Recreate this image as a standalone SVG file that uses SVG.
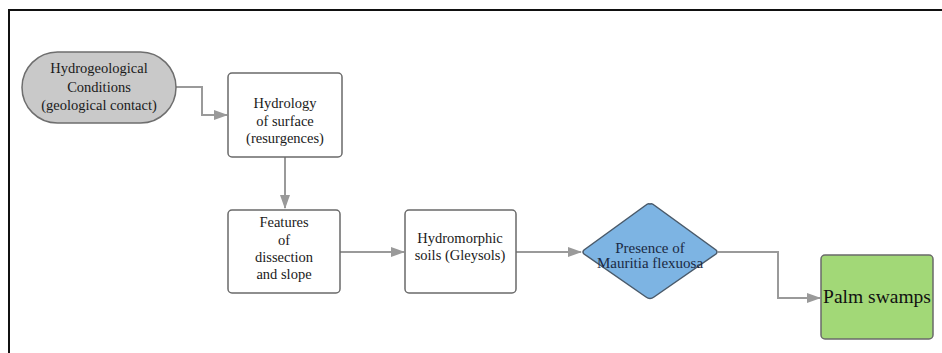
<svg xmlns="http://www.w3.org/2000/svg" width="942" height="353" viewBox="0 0 942 353">
<style>
.t{font-family:'Liberation Serif','Times New Roman','DejaVu Serif',serif;font-size:14.5px;fill:#1a1a1a;text-anchor:middle}
.box{fill:#fff;stroke:#6a6a6a;stroke-width:1.5}
.c{fill:none;stroke:#9a9a9a;stroke-width:2}
</style>
<defs>
<marker id="ah" markerWidth="14" markerHeight="10" refX="13" refY="5" orient="auto" markerUnits="userSpaceOnUse">
<path d="M0,0 L14,5 L0,10 Z" fill="#9a9a9a"/>
</marker>
</defs>
<rect width="942" height="353" fill="#fff"/>
<path d="M9,355 V10 H944" fill="none" stroke="#111" stroke-width="2"/>
<g id="connectors">
<path class="c" d="M176,87 H202 V115 H227" marker-end="url(#ah)"/>
<path class="c" d="M285,157 V208" marker-end="url(#ah)"/>
<path class="c" d="M340,252 H404" marker-end="url(#ah)"/>
<path class="c" d="M516,252 H581" marker-end="url(#ah)"/>
<path class="c" d="M718,252 H778 V298 H820" marker-end="url(#ah)"/>
</g>
<g id="n1">
<rect x="22" y="52" width="154" height="71" rx="35.5" fill="#c9c9c9" stroke="#6e6e6e" stroke-width="1.5"/>
<text class="t" x="99" y="73">Hydrogeological</text>
<text class="t" x="99" y="92">Conditions</text>
<text class="t" x="99" y="110">(geological contact)</text>
</g>
<g id="n2">
<rect class="box" x="228" y="73" width="114" height="84" rx="4"/>
<text class="t" x="285" y="108">Hydrology</text>
<text class="t" x="285" y="126">of surface</text>
<text class="t" x="285" y="143">(resurgences)</text>
</g>
<g id="n3">
<rect class="box" x="228" y="210" width="112" height="83" rx="4"/>
<text class="t" x="284" y="227">Features</text>
<text class="t" x="284" y="245">of</text>
<text class="t" x="284" y="262">dissection</text>
<text class="t" x="284" y="279">and slope</text>
</g>
<g id="n4">
<rect class="box" x="405" y="210" width="111" height="83" rx="4"/>
<text class="t" x="460" y="243">Hydromorphic</text>
<text class="t" x="460" y="260">soils (Gleysols)</text>
</g>
<g id="n5">
<path d="M650,204 Q652,203 654,205 L716,250 Q718,252 716,254 L654,297 Q650,300 646,297 L584,254 Q582,252 584,250 L646,205 Q648,203 650,204 Z" fill="#7db4e3" stroke="#4a5a6a" stroke-width="1.5"/>
<text class="t" x="650" y="253" style="font-size:15px;fill:#1b2a44">Presence of</text>
<text class="t" x="650" y="268" style="font-size:15px;fill:#1b2a44">Mauritia flexuosa</text>
</g>
<g id="n6">
<rect x="821" y="255" width="112" height="84" rx="4" fill="#a2d877" stroke="#6a6a6a" stroke-width="1.5"/>
<text class="t" x="877" y="303" style="font-size:19.5px;fill:#111">Palm swamps</text>
</g>
</svg>
